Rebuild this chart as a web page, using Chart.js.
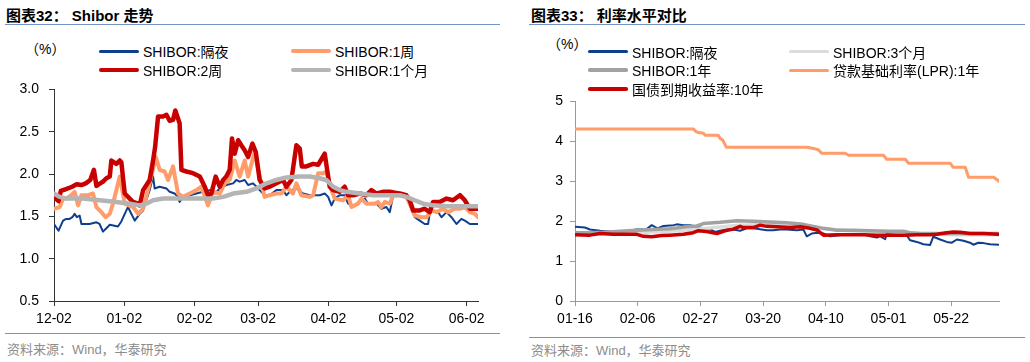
<!DOCTYPE html>
<html>
<head>
<meta charset="utf-8">
<script src="https://cdn.jsdelivr.net/npm/chart.js@4.4.1/dist/chart.umd.min.js"></script>
<style>
  body { margin:0; background:#fff; width:1030px; height:362px; position:relative; overflow:hidden;
         font-family:"Liberation Sans", Arial, "Noto Sans CJK SC", sans-serif; color:#000; }
  .abs { position:absolute; white-space:nowrap; }
  .title { font-size:15px; font-weight:bold; top:14px; transform:translateY(-50%); }
  .rule { position:absolute; height:1px; background:#7393C4; }
  .src { font-size:13px; color:#8c8c8c; transform:translateY(-50%); }
  .lg { font-size:14px; transform:translateY(-50%); }
  canvas { position:absolute; }
</style>
</head>
<body>
<div class="abs title" style="left:6px">图表32：&nbsp;Shibor 走势</div>
<div class="rule" style="left:5px;top:24px;width:495px"></div>
<div class="abs title" style="left:531px">图表33：&nbsp;利率水平对比</div>
<div class="rule" style="left:529px;top:24px;width:496px"></div>

<div class="abs lg" style="left:25px;top:48px">（%）</div>
<div class="abs lg" style="left:547px;top:43px">（%）</div>

<canvas id="left" width="500" height="258" style="left:0;top:71px"></canvas>
<canvas id="right" width="505" height="243" style="left:520px;top:86px"></canvas>

<div class="rule" style="left:5px;top:333px;width:495px"></div>
<div class="abs src" style="left:7px;top:348px">资料来源：Wind，华泰研究</div>
<div class="rule" style="left:529px;top:337px;width:496px"></div>
<div class="abs src" style="left:531px;top:349px">资料来源：Wind，华泰研究</div>

<script>
// ---- 图表32 : Shibor 走势 (x = days since 12-02) ----
const leftTickDays = [0, 31, 62, 90, 121, 151, 182]
const leftTickLabels = ['12-02', '01-02', '02-02', '03-02', '04-02', '05-02', '06-02']

const shiborON = [[0,1.41],[2,1.33],[2.5,1.36],[4,1.45],[5.4,1.47],[6.9,1.47],[8.1,1.49],[9.1,1.53],[10.1,1.49],[11.3,1.51],
  [12.1,1.41],[15.7,1.41],[18.7,1.43],[20.1,1.41],[21.6,1.32],[23.1,1.36],[24.6,1.40],[28.2,1.38],[29.7,1.44],[31.2,1.53],
  [32.6,1.61],[34.1,1.53],[35.6,1.45],[37.8,1.53],[39.3,1.57],[40.7,1.69],[42.2,1.81],[43.7,1.97],[44.4,1.83],[46.6,1.85],
  [49.6,1.83],[51,1.79],[53.2,1.77],[54.7,1.73],[55.4,1.67],[56.9,1.73],[59.9,1.75],[62.8,1.77],[65.7,1.79],[68.7,1.81],
  [70.9,1.77],[73.1,1.83],[76,1.87],[79,1.89],[80.4,1.93],[81.9,1.91],[84.1,1.93],[85.6,1.87],[87.8,1.89],[89.3,1.85],
  [90.7,1.81],[92.9,1.75],[95.1,1.75],[98.1,1.81],[101,1.81],[102.5,1.75],[104.7,1.81],[106.9,1.83],[109.9,1.77],[112.8,1.75],
  [117.2,1.75],[119.4,1.77],[120.9,1.73],[122.4,1.63],[123.8,1.71],[126,1.75],[128.2,1.75],[129.7,1.65],[131.9,1.63],[134.9,1.67],
  [137.1,1.71],[138.5,1.65],[142.2,1.65],[144.4,1.59],[146.6,1.61],[148.1,1.55],[149.6,1.75],[152.5,1.75],[155.4,1.73],[157.6,1.59],
  [159.1,1.49],[161.3,1.45],[163.5,1.41],[165,1.41],[166,1.59],[167.2,1.57],[169.4,1.55],[170.9,1.49],[173.1,1.55],[175.3,1.49],
  [177.5,1.41],[179.7,1.47],[181.2,1.45],[183.4,1.41],[187,1.41]]

const shibor1W = [[0,1.59],[2.5,1.61],[4,1.71],[5.4,1.71],[7.6,1.75],[9.1,1.79],[10.6,1.63],[12.1,1.75],[15,1.75],[17.2,1.77],
  [18.7,1.61],[20.9,1.55],[22.8,1.49],[24.6,1.53],[26,1.65],[29,1.97],[31.2,1.65],[34.9,1.61],[37.1,1.53],[39.3,1.59],
  [42.2,1.89],[44.9,2.20],[46.6,2.05],[48.8,2.03],[50.3,1.93],[52.5,2.09],[54.7,1.77],[56.9,1.73],[59.9,1.77],[62.8,1.81],
  [65,1.85],[67.9,1.63],[70.1,1.79],[73.1,1.77],[75.3,1.89],[77.5,1.93],[79.7,2.16],[81.9,1.97],[84.1,2.16],[85.6,1.97],
  [87.5,2.16],[88.5,2.26],[90.7,1.97],[92.9,1.73],[95.1,1.75],[98.1,1.77],[100.3,1.77],[102.5,1.85],[105.4,1.77],[106.9,1.89],
  [109.1,1.75],[112.8,1.73],[114.3,1.75],[116.5,2.01],[118.7,2.01],[120.1,2.03],[122.4,1.81],[123.8,1.71],[127.5,1.69],[129.7,1.75],
  [131.2,1.61],[134.1,1.65],[135.6,1.71],[137.8,1.65],[141.5,1.65],[142.9,1.67],[144.4,1.61],[145.9,1.67],[148.1,1.65],[149.6,1.75],
  [152.5,1.75],[155.4,1.73],[157.6,1.61],[159.1,1.51],[162.1,1.49],[164.3,1.49],[166.5,1.57],[168.7,1.55],[171.6,1.59],[173.8,1.55],
  [176.8,1.59],[179,1.59],[181.2,1.61],[183.4,1.55],[185.6,1.53],[187,1.49]]

const shibor2W = [[0,1.73],[2,1.68],[3,1.80],[5,1.82],[8,1.85],[10,1.88],[12,1.87],[14,1.89],[16,1.93],[17.6,2.05],
  [18.7,1.86],[21.6,1.91],[23.1,1.95],[24.6,1.97],[25.3,2.16],[27.5,2.12],[29,2.16],[29.7,2.14],[31.2,1.77],[33.4,1.71],
  [34.9,1.67],[37.1,1.65],[37.8,1.63],[39.3,1.81],[42.2,1.93],[43.7,2.16],[44.6,2.32],[45.9,2.68],[48.1,2.68],[49.6,2.70],
  [51,2.63],[52.5,2.64],[53.5,2.75],[55.4,2.60],[56.2,2.05],[58.4,2.03],[61.3,2.01],[64.3,1.97],[66.5,1.85],[67.9,1.75],
  [69.4,1.77],[71.3,1.97],[73.1,1.85],[74.6,1.93],[76,1.97],[77.5,2.05],[78.5,2.42],[79.7,2.24],[81.2,2.40],[82.6,2.34],
  [84.1,2.28],[85.6,2.20],[87.5,2.36],[89,2.26],[90.7,1.93],[92.9,1.83],[95.1,1.85],[98.1,1.89],[101,1.93],[102.5,1.85],
  [104.7,1.93],[106.9,2.34],[108.4,2.30],[109.3,2.09],[111.3,2.09],[114.3,2.12],[116.5,2.11],[119.4,2.24],[121.6,1.85],[123.1,1.81],
  [126,1.79],[128.2,1.85],[129.7,1.75],[131.9,1.75],[134.9,1.77],[137.8,1.75],[140,1.81],[142.2,1.77],[145.1,1.79],[148.1,1.79],
  [150.3,1.78],[152.5,1.77],[155.4,1.75],[156.9,1.69],[158.4,1.57],[161.3,1.57],[163.5,1.59],[165.7,1.55],[167.2,1.67],[170.1,1.67],
  [173.1,1.71],[176,1.69],[179,1.75],[181.2,1.69],[183.4,1.59],[187,1.59]]

const shibor1M = [[0,1.77],[2.5,1.73],[5.4,1.71],[12.8,1.71],[20.1,1.69],[27.5,1.67],[33.4,1.65],[37.8,1.63],[40.7,1.65],[43.7,1.69],
  [48.1,1.71],[55.4,1.71],[64.3,1.71],[70.1,1.71],[74.6,1.73],[79,1.77],[84.9,1.79],[89.3,1.83],[93.7,1.89],[98.1,1.93],
  [102.5,1.96],[108.4,1.97],[112.8,1.97],[117.2,1.95],[120.1,1.93],[123.1,1.85],[126,1.81],[129,1.79],[134.9,1.77],[140.7,1.75],
  [149.6,1.75],[152.5,1.75],[155.4,1.73],[159.1,1.69],[162.8,1.65],[167.2,1.63],[173.1,1.62],[187,1.62]]

// ---- 图表33 : 利率水平对比 ----
const rightTickDays = [0, 21, 42, 63, 84, 105, 126]
const rightTickLabels = ['01-16', '02-06', '02-27', '03-20', '04-10', '05-01', '05-22']

const rON = [[0,1.86],[3.3,1.84],[5,1.79],[8.4,1.76],[12.8,1.74],[16.2,1.75],[20.7,1.79],[24,1.80],[25.7,1.90],[27.6,1.82],
  [29.6,1.88],[33,1.90],[34.1,1.92],[36.3,1.90],[38.5,1.90],[40.8,1.86],[43,1.82],[45.2,1.80],[46.9,1.73],[48.6,1.76],
  [50.8,1.79],[53,1.79],[55.3,1.76],[57.5,1.82],[59.7,1.82],[62,1.80],[64.2,1.77],[66.4,1.77],[68.7,1.79],[70.9,1.79],
  [74.3,1.77],[76.5,1.79],[77.6,1.62],[79.3,1.69],[81,1.71],[83.2,1.69],[85.4,1.62],[87.7,1.64],[91,1.67],[94.4,1.67],
  [96.6,1.67],[98.8,1.62],[101.1,1.59],[102.2,1.62],[103.9,1.55],[104.4,1.69],[106.7,1.67],[108.9,1.67],[111.1,1.65],[112.2,1.52],
  [114.5,1.48],[116.7,1.42],[118.9,1.40],[120,1.61],[122.3,1.54],[124.5,1.48],[126.2,1.46],[127.9,1.54],[130.1,1.51],[132.3,1.46],
  [133.4,1.41],[135.1,1.46],[136.8,1.45],[139,1.42],[141.8,1.41]]

const r3M = [[0,1.69],[10,1.70],[20,1.71],[30,1.74],[38,1.78],[45,1.83],[55,1.90],[65,1.92],[75,1.89],[83,1.81],
  [92,1.76],[104,1.74],[111,1.71],[118,1.68],[128,1.66],[141.8,1.66]]

const r1Y = [[0,1.71],[5,1.71],[9.5,1.72],[15.1,1.75],[20.7,1.77],[26.2,1.79],[31.8,1.81],[37.4,1.86],[40.8,1.88],[43,1.94],
  [48.6,1.97],[54.2,2.01],[59.7,2.00],[65.3,1.98],[70.9,1.96],[76.5,1.92],[79.8,1.87],[83.2,1.82],[87.7,1.77],[93.2,1.77],
  [98.8,1.76],[104.4,1.75],[110,1.75],[112.2,1.71],[115.6,1.69],[121.2,1.69],[132.3,1.69],[141.8,1.69]]

const rLPR = [[0,4.31],[39.7,4.31],[40.4,4.25],[41.3,4.22],[43,4.20],[43.6,4.15],[48,4.15],[48.6,4.07],[49.5,4.03],[50.6,3.86],
  [50.8,3.85],[77.6,3.85],[79.9,3.82],[81.5,3.79],[82.6,3.70],[90.5,3.70],[91.6,3.65],[103.3,3.65],[104.4,3.55],[110.6,3.55],
  [111.7,3.45],[125.7,3.45],[126.6,3.35],[130.7,3.35],[131.8,3.10],[140.2,3.10],[142,3.00]]

const r10Y = [[0,1.66],[5,1.65],[8.4,1.69],[12.8,1.67],[20.7,1.67],[22.9,1.62],[25.7,1.61],[29,1.64],[31.8,1.65],[36.3,1.67],
  [39.6,1.71],[41.3,1.76],[44.1,1.74],[47.5,1.69],[50.2,1.76],[53,1.80],[55.3,1.87],[56.4,1.84],[59.7,1.84],[62,1.90],
  [64.2,1.87],[67.6,1.86],[72,1.84],[75.4,1.86],[78.7,1.82],[81,1.78],[83.2,1.65],[87.7,1.66],[92.1,1.66],[96.6,1.66],
  [101.1,1.65],[105.5,1.65],[110,1.65],[114.5,1.66],[118.9,1.66],[121.2,1.67],[124.5,1.71],[126.7,1.73],[129,1.72],[132.3,1.69],
  [136.8,1.69],[141.8,1.67]]

const BLUE = '#0E3E8C'
const ORANGE = '#FF9C6A'
const RED = '#C80000'
const GRAY = '#B4B4B4'
const GRAY_DARK = '#A2A2A2'
const GRAY_LIGHT = '#DCDCDC'
const FONT = { family: '"Liberation Sans", Arial, "Noto Sans CJK SC", sans-serif', size: 14 }

const pts = arr => arr.map(p => ({ x: p[0], y: p[1] }))

function series(label, arr, color, width, order) {
  return { label, data: pts(arr), borderColor: color, backgroundColor: color, borderWidth: width,
    order, pointRadius: 0, tension: 0, borderJoinStyle: 'round', borderCapStyle: 'round', fill: false }
}

function makeChart(id, datasets, opt) {
  return new Chart(document.getElementById(id), {
    type: 'line',
    data: { datasets },
    options: {
      responsive: false, animation: false, events: [],
      layout: { padding: { top: 3, right: opt.padRight, bottom: 0, left: 0 } },
      plugins: { legend: { display: false }, tooltip: { enabled: false } },
      scales: {
        x: {
          type: 'linear', min: 0, max: opt.xMax,
          afterBuildTicks: s => { s.ticks = opt.tickDays.map(v => ({ value: v })) },
          afterFit: s => { s.height = 28 },
          ticks: { callback: v => opt.tickLabels[opt.tickDays.indexOf(v)], font: FONT, color: '#000',
            padding: 5, maxRotation: 0, autoSkip: false },
          grid: { drawOnChartArea: false, tickLength: 5, color: opt.axisColor },
          border: { color: opt.axisColor, width: 1 }
        },
        y: {
          min: opt.yMin, max: opt.yMax,
          afterFit: s => { s.width = opt.yWidth },
          ticks: { stepSize: opt.yStep, callback: opt.yFmt, font: FONT, color: '#000', padding: opt.yPad },
          grid: { drawOnChartArea: false, tickLength: 5, color: opt.axisColor },
          border: { color: opt.axisColor, width: 1 }
        }
      }
    }
  })
}

function makeLegend(items) {
  items.forEach(it => {
    const sw = document.createElement('div')
    sw.style.cssText = `position:absolute;left:${it.x}px;top:${it.y - it.w / 2}px;width:40px;height:${it.w}px;background:${it.color};border-radius:${it.w / 2}px`
    document.body.appendChild(sw)
    const tx = document.createElement('div')
    tx.className = 'abs lg'
    tx.style.left = (it.x + 44) + 'px'
    tx.style.top = it.y + 'px'
    tx.textContent = it.label
    document.body.appendChild(tx)
  })
}

// 图表32
const leftSets = [
  series('SHIBOR:隔夜', shiborON, BLUE, 2, 4),
  series('SHIBOR:1周', shibor1W, ORANGE, 4, 3),
  series('SHIBOR:2周', shibor2W, RED, 4.5, 2),
  series('SHIBOR:1个月', shibor1M, GRAY, 4.5, 1)
]
makeChart('left', leftSets, {
  xMax: 187, tickDays: leftTickDays, tickLabels: leftTickLabels, padRight: 22,
  yMin: 0.5, yMax: 3, yStep: 0.5, yFmt: v => v.toFixed(1), yWidth: 54, yPad: 10, axisColor: '#333'
})

// 图表33
const rightSets = [
  series('SHIBOR:隔夜', rON, BLUE, 2, 5),
  series('SHIBOR:3个月', r3M, GRAY_LIGHT, 3.5, 4),
  series('SHIBOR:1年', r1Y, GRAY_DARK, 3.5, 3),
  series('贷款基础利率(LPR):1年', rLPR, ORANGE, 3, 2),
  series('国债到期收益率:10年', r10Y, RED, 3.5, 1)
]
makeChart('right', rightSets, {
  xMax: 142, tickDays: rightTickDays, tickLabels: rightTickLabels, padRight: 26,
  yMin: 0, yMax: 5, yStep: 1, yFmt: v => String(v), yWidth: 55, yPad: 7, axisColor: '#999'
})

const legendLeftPos = [[99, 51], [291, 51], [99, 70], [291, 70]]
makeLegend(leftSets.map((d, i) => ({ label: d.label, color: d.borderColor, w: Math.max(d.borderWidth, 3),
  x: legendLeftPos[i][0], y: legendLeftPos[i][1] })))

const legendRightPos = [[588, 51.5], [789, 51.5], [588, 70], [789, 70], [588, 89]]
makeLegend(rightSets.map((d, i) => ({ label: d.label, color: d.borderColor, w: Math.max(d.borderWidth, 3),
  x: legendRightPos[i][0], y: legendRightPos[i][1] })))
</script>
</body>
</html>
